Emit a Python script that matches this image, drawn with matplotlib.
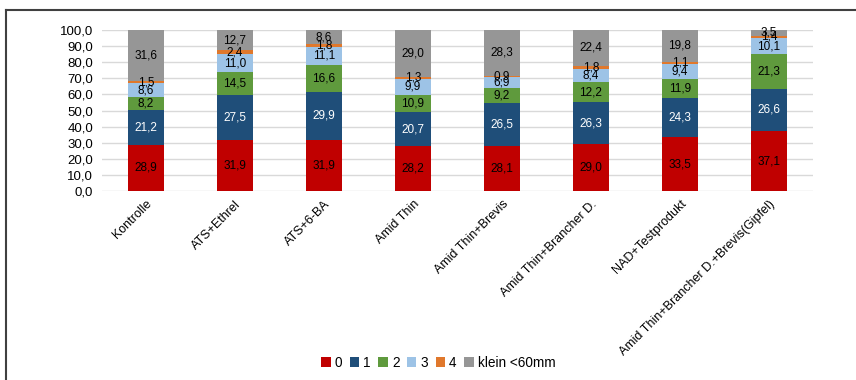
import matplotlib
matplotlib.use("Agg")
import matplotlib.pyplot as plt
from matplotlib.lines import Line2D
import numpy as np

plt.rcParams['font.family'] = ['Liberation Sans', 'DejaVu Sans']

categories = ["Kontrolle", "ATS+Ethrel", "ATS+6-BA", "Amid Thin", "Amid Thin+Brevis",
              "Amid Thin+Brancher D.", "NAD+Testprodukt",
              "Amid Thin+Brancher D.+Brevis(Gipfel)"]
series_names = ["0", "1", "2", "3", "4", "klein <60mm"]

s0 = [28.9, 31.9, 31.9, 28.2, 28.1, 29.0, 33.5, 37.1]
s1 = [21.2, 27.5, 29.9, 20.7, 26.5, 26.3, 24.3, 26.6]
s2 = [8.2, 14.5, 16.6, 10.9, 9.2, 12.2, 11.9, 21.3]
s3 = [8.6, 11.0, 11.1, 9.9, 6.9, 8.4, 9.4, 10.1]
s4 = [1.5, 2.4, 1.8, 1.3, 0.9, 1.8, 1.1, 1.4]
s_klein = [31.6, 12.7, 8.6, 29.0, 28.3, 22.4, 19.8, 3.5]

yticks = [0, 10, 20, 30, 40, 50, 60, 70, 80, 90, 100]

colors = ["#C00000", "#1F4E79", "#5F9A3D", "#9DC3E6", "#E0782C", "#969696"]
label_colors = ["black", "white", "black", "black", "black", "black"]

fig = plt.figure(figsize=(8.56, 3.8), dpi=100)
ax = fig.add_axes([0.1186, 0.497, 0.8317, 0.424])

x = np.arange(len(categories))
bottom = np.zeros(len(categories))
all_series = [s0, s1, s2, s3, s4, s_klein]
for vals, name, col, lcol in zip(all_series, series_names, colors, label_colors):
    vals = np.array(vals)
    ax.bar(x, vals, width=0.4, bottom=bottom, color=col, label=name,
           edgecolor="none", zorder=3)
    for xi, b, v in zip(x, bottom, vals):
        ax.text(xi, b + v / 2, f"{v:.1f}".replace(".", ","), ha="center",
                va="center", fontsize=8.5, color=lcol, zorder=4)
    bottom += vals

ax.set_xlim(-0.5, len(categories) - 0.5)
ax.set_ylim(0, 100)
ax.set_yticks(yticks)
ax.set_yticklabels([f"{t:.1f}".replace(".", ",") for t in yticks], fontsize=9.5)
ax.yaxis.grid(True, color="#D9D9D9", linewidth=1.0, zorder=0)
ax.set_axisbelow(True)
for sp in ax.spines.values():
    sp.set_visible(False)
ax.tick_params(axis="y", length=0, pad=6)
ax.tick_params(axis="x", length=0, pad=5)
ax.set_xticks(x)
ax.set_xticklabels(categories, rotation=45, ha="right", rotation_mode="anchor",
                   fontsize=9)

leg = fig.legend(loc="center", bbox_to_anchor=(0.512, 0.045), ncol=6,
                 frameon=False, fontsize=9.8, handlelength=0.7, handleheight=0.7,
                 handletextpad=0.3, columnspacing=0.55)

# outer frame (top and left edges)
fig.add_artist(Line2D([5.5 / 856, 1.0], [1 - 9.5 / 380, 1 - 9.5 / 380],
                      transform=fig.transFigure, color="#404040", linewidth=1.5))
fig.add_artist(Line2D([5.5 / 856, 5.5 / 856], [0.0, 1 - 9.5 / 380],
                      transform=fig.transFigure, color="#404040", linewidth=1.5))

fig.savefig("out.png", dpi=100)
